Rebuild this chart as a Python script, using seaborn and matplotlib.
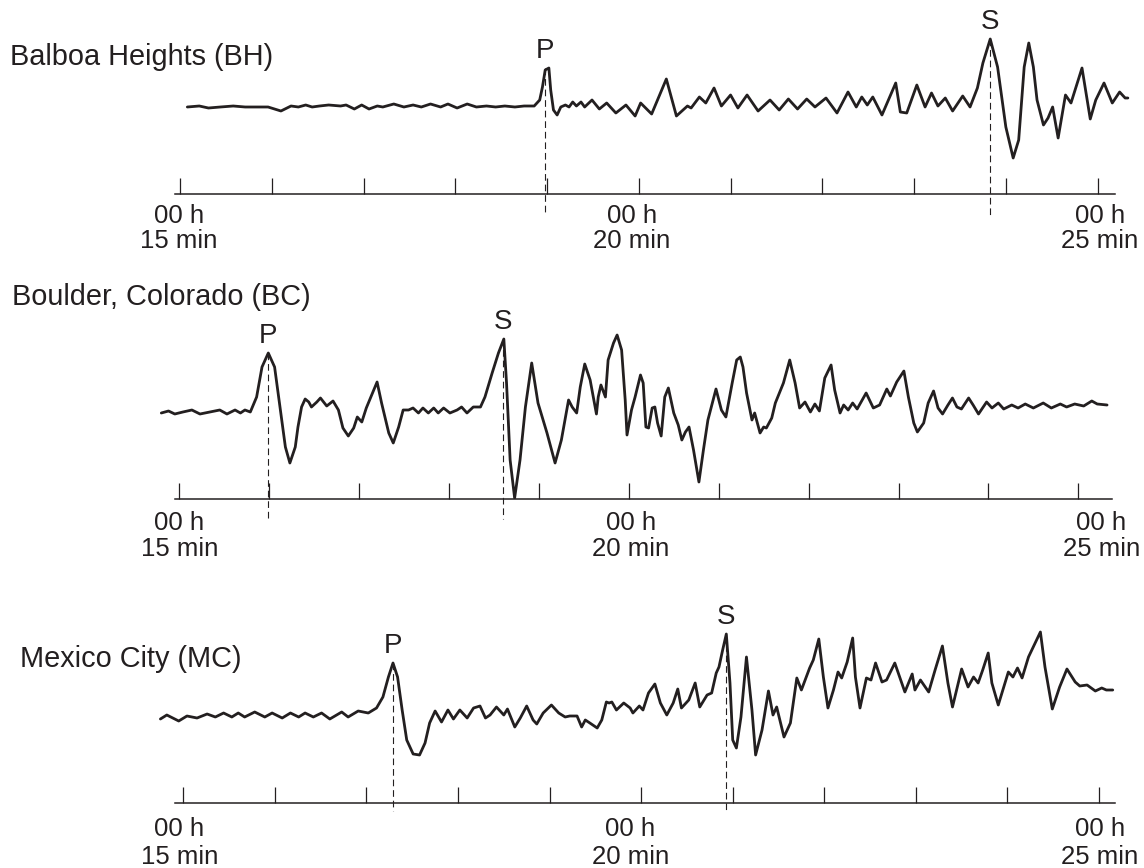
import matplotlib
matplotlib.use("Agg")
import matplotlib.pyplot as plt
import pandas as pd
import seaborn as sns

sns.set_style("white")
plt.rcParams['font.family'] = ['Liberation Sans', 'DejaVu Sans']

INK = '#231f20'

# station names
stations = ["Balboa Heights (BH)", "Boulder, Colorado (BC)", "Mexico City (MC)"]

# seismogram traces
# time in minutes after 00 h, amplitude in arbitrary units (up = positive)
bh_t = [15.08, 15.21, 15.31, 15.44, 15.58, 15.71, 15.79, 15.96, 16.10, 16.21,
        16.29, 16.37, 16.44, 16.52, 16.62, 16.75, 16.81, 16.90, 16.98, 17.06,
        17.15, 17.21, 17.33, 17.44, 17.54, 17.63, 17.73, 17.84, 17.92, 18.02,
        18.13, 18.23, 18.34, 18.44, 18.54, 18.65, 18.75, 18.86, 18.92, 18.95,
        18.98, 19.02, 19.04, 19.07, 19.11, 19.15, 19.20, 19.24, 19.28, 19.32,
        19.37, 19.41, 19.49, 19.57, 19.65, 19.75, 19.86, 19.96, 20.02, 20.14,
        20.30, 20.41, 20.53, 20.57, 20.66, 20.73, 20.82, 20.90, 21.00, 21.08,
        21.18, 21.30, 21.43, 21.53, 21.63, 21.73, 21.83, 21.92, 22.04, 22.16,
        22.28, 22.37, 22.43, 22.49, 22.55, 22.65, 22.80, 22.85, 22.92, 23.03,
        23.12, 23.19, 23.26, 23.34, 23.42, 23.53, 23.61, 23.69, 23.75, 23.83,
        23.91, 24.00, 24.08, 24.14, 24.20, 24.25, 24.30, 24.34, 24.41, 24.46,
        24.51, 24.57, 24.65, 24.71, 24.83, 24.92, 24.98, 25.07, 25.16, 25.24,
        25.30, 25.33]
bh_a = [0, 1, -1, 0, 1, 0, 0, 0, -4, 1,
        0, 2, 0, 1, 2, 1, 2, -2, 2, -2,
        1, 0, 3, 0, 2, 0, 3, 0, 3, -1,
        3, 0, 1, 0, 1, 0, 1, 1, 7, 20,
        37, 39, 17, -3, -8, 0, 2, 0, 5, 1,
        5, 0, 7, -2, 4, -6, 2, -9, 4, -7,
        28, -9, 1, -1, 10, 4, 19, 1, 12, -1,
        12, -4, 7, -3, 8, -2, 8, 0, 9, -6,
        15, 0, 10, 2, 10, -8, 24, -5, -6, 22,
        0, 14, 1, 9, -4, 11, 0, 19, 44, 68,
        40, -20, -51, -33, 40, 64, 40, 7, -18, -11,
        0, -31, 12, 4, 39, -12, 7, 24, 4, 15,
        9, 9]

bc_t = [14.80, 14.88, 14.95, 15.04, 15.14, 15.23, 15.34, 15.45, 15.53, 15.62,
        15.68, 15.73, 15.79, 15.86, 15.92, 15.99, 16.06, 16.12, 16.18, 16.23,
        16.29, 16.32, 16.36, 16.40, 16.44, 16.47, 16.53, 16.57, 16.64, 16.71,
        16.77, 16.82, 16.88, 16.94, 16.98, 17.03, 17.08, 17.14, 17.20, 17.25,
        17.33, 17.38, 17.44, 17.49, 17.55, 17.60, 17.66, 17.71, 17.77, 17.83,
        17.88, 17.94, 18.01, 18.09, 18.14, 18.20, 18.27, 18.35, 18.40, 18.48,
        18.55, 18.61, 18.64, 18.68, 18.73, 18.79, 18.85, 18.92, 18.99, 19.09,
        19.18, 19.25, 19.33, 19.37, 19.42, 19.46, 19.51, 19.57, 19.64, 19.66,
        19.69, 19.74, 19.77, 19.83, 19.87, 19.92, 19.96, 19.98, 20.03, 20.07,
        20.13, 20.16, 20.19, 20.22, 20.26, 20.29, 20.32, 20.36, 20.40, 20.44,
        20.50, 20.55, 20.59, 20.63, 20.67, 20.72, 20.78, 20.83, 20.88, 20.97,
        21.03, 21.08, 21.15, 21.20, 21.24, 21.27, 21.31, 21.37, 21.40, 21.46,
        21.50, 21.53, 21.59, 21.63, 21.72, 21.79, 21.85, 21.90, 21.96, 22.02,
        22.07, 22.12, 22.18, 22.25, 22.29, 22.35, 22.39, 22.44, 22.49, 22.54,
        22.64, 22.72, 22.79, 22.87, 22.91, 22.98, 23.06, 23.11, 23.17, 23.21,
        23.28, 23.33, 23.39, 23.44, 23.49, 23.55, 23.60, 23.65, 23.70, 23.78,
        23.83, 23.89, 23.98, 24.04, 24.11, 24.17, 24.26, 24.33, 24.41, 24.50,
        24.61, 24.70, 24.80, 24.87, 24.96, 25.06, 25.15, 25.21, 25.32]
bc_a = [-3, -1, -4, -2, 0, -4, -2, 0, -4, 0,
        -3, 0, -2, 13, 43, 57, 43, 3, -37, -53,
        -37, -17, 3, 11, 8, 3, 8, 12, 4, 9,
        0, -18, -26, -18, -7, -12, 2, 15, 28, 7,
        -23, -33, -17, 0, 0, 2, -3, 2, -3, 2,
        -3, 2, -3, 0, 3, -3, 3, 3, 13, 37,
        57, 71, 27, -50, -88, -50, 3, 47, 7, -23,
        -53, -30, 10, 3, -3, 23, 46, 30, -4, 13,
        25, 13, 50, 67, 75, 60, 10, -25, 0, 13,
        35, 27, -17, -18, 2, 3, -13, -26, 13, 22,
        -3, -15, -30, -22, -17, -40, -72, -40, -10, 21,
        0, -7, 27, 50, 53, 43, 17, -10, -3, -23,
        -17, -18, -8, 7, 27, 50, 27, 2, 8, -2,
        6, -1, 32, 45, 20, -3, 5, 0, 7, 1,
        17, 2, 5, 21, 14, 28, 39, 13, -13, -22,
        -13, 7, 19, 2, -4, 5, 12, 3, 1, 12,
        5, -4, 8, 2, 7, 1, 5, 2, 6, 2,
        7, 2, 6, 3, 6, 4, 9, 6, 5]

mc_t = [14.75, 14.82, 14.95, 15.04, 15.15, 15.26, 15.35, 15.44, 15.53, 15.60,
        15.67, 15.78, 15.89, 15.97, 16.08, 16.17, 16.26, 16.33, 16.42, 16.51,
        16.60, 16.73, 16.80, 16.91, 17.02, 17.11, 17.18, 17.24, 17.29, 17.34,
        17.39, 17.44, 17.51, 17.58, 17.64, 17.69, 17.75, 17.82, 17.89, 17.95,
        18.02, 18.10, 18.17, 18.24, 18.30, 18.35, 18.42, 18.50, 18.54, 18.62,
        18.68, 18.75, 18.82, 18.86, 18.93, 19.02, 19.10, 19.17, 19.22, 19.30,
        19.35, 19.39, 19.44, 19.52, 19.57, 19.62, 19.65, 19.68, 19.73, 19.81,
        19.88, 19.91, 19.98, 20.02, 20.08, 20.15, 20.21, 20.28, 20.35, 20.40,
        20.44, 20.52, 20.59, 20.64, 20.72, 20.77, 20.82, 20.85, 20.89, 20.93,
        20.97, 21.00, 21.04, 21.09, 21.15, 21.21, 21.25, 21.32, 21.39, 21.44,
        21.48, 21.56, 21.63, 21.70, 21.75, 21.84, 21.88, 21.94, 21.99, 22.04,
        22.10, 22.15, 22.19, 22.25, 22.31, 22.34, 22.39, 22.46, 22.51, 22.56,
        22.63, 22.68, 22.77, 22.88, 22.96, 22.99, 23.05, 23.14, 23.21, 23.29,
        23.35, 23.40, 23.50, 23.57, 23.63, 23.68, 23.73, 23.79, 23.83, 23.90,
        24.01, 24.06, 24.11, 24.16, 24.23, 24.36, 24.41, 24.49, 24.57, 24.65,
        24.74, 24.79, 24.87, 24.96, 25.03, 25.08, 25.15]
mc_a = [-3, 1, -5, 0, -2, 2, -1, 3, -1, 3,
        -1, 4, -1, 3, -2, 3, -1, 3, -1, 3,
        -3, 4, -1, 5, 3, 8, 19, 39, 53, 39,
        6, -24, -38, -39, -27, -7, 5, -6, 6, -3,
        6, -2, 8, 10, -2, 1, 9, 1, 7, -11,
        -2, 10, -4, -8, 3, 11, 3, -1, 0, 0,
        -11, -4, -7, -12, -4, 14, 13, 14, 6, 13,
        8, 3, 10, 6, 23, 32, 13, 1, 13, 27,
        8, 16, 33, 9, 21, 23, 43, 49, 66, 82,
        33, -24, -32, -1, 59, 6, -39, -14, 25, 1,
        9, -21, -7, 38, 26, 48, 56, 77, 39, 8,
        26, 44, 38, 54, 78, 39, 8, 38, 36, 53,
        34, 36, 53, 24, 42, 26, 36, 24, 46, 70,
        33, 9, 47, 29, 39, 33, 46, 63, 33, 11,
        44, 39, 48, 38, 59, 84, 49, 7, 29, 47,
        34, 30, 31, 25, 28, 26, 26]

# P and S wave arrival picks (minutes) and the amplitude of the marked peak
p_time = [18.98, 15.99, 17.29]
p_amp = [39, 57, 53]
s_time = [23.83, 18.60, 20.93]
s_amp = [68, 71, 82]

minute_ticks = list(range(15, 26))
labelled = [15, 20, 25]

traces = [(bh_t, bh_a), (bc_t, bc_a), (mc_t, mc_a)]

# layout in figure pixels: axis line y, trace rest level y, x of 15 min, px per minute
W, H = 1144, 868
layout = [(194, 107, 180.0, 91.76), (498.5, 410, 179.3, 89.9), (802.5, 716, 183.3, 91.57)]
axis_span = [(14.95, 25.19), (14.95, 25.38), (14.91, 25.17)]
title_xy = [(10, 65), (12, 305), (20, 667)]
dash_drop = [21, 20, 8]
label_dx = [[-1, -7, 2], [0, 2, 23], [-4, -11, 1]]
label_base = [(28.7, 54.5), (31.5, 58), (34, 61)]

fig = plt.figure(figsize=(W / 100, H / 100), dpi=100)

for i, name in enumerate(stations):
    axis_y, rest_y, x15, ppm = layout[i]
    top_y = axis_y - 200
    ax = fig.add_axes([0, 1 - axis_y / H, 1, (axis_y - top_y) / H])
    ax.patch.set_alpha(0)
    ax.set_xlim(15 - x15 / ppm, 15 + (W - x15) / ppm)
    lo = rest_y - axis_y
    ax.set_ylim(lo, rest_y - top_y)

    t, a = traces[i]
    df = pd.DataFrame({"minute": t, "amp": a})
    sns.lineplot(data=df, x="minute", y="amp", ax=ax, color=INK, lw=2.0,
                 estimator=None, sort=False, solid_joinstyle='round',
                 solid_capstyle='round')

    # P / S picks
    for tt, aa, lab in [(p_time[i], p_amp[i], "P"), (s_time[i], s_amp[i], "S")]:
        ax.plot([tt, tt], [aa, lo - dash_drop[i]], color=INK, lw=0.8,
                ls=(0, (6, 3.5)), clip_on=False)
        ax.annotate(lab, xy=(tt, aa), xytext=(0, 10), textcoords='offset pixels',
                    ha='center', va='baseline', fontsize=20, color=INK)

    # time axis
    for side in ['top', 'left', 'right']:
        ax.spines[side].set_visible(False)
    ax.spines['bottom'].set_bounds(*axis_span[i])
    ax.spines['bottom'].set_linewidth(1.1)
    ax.spines['bottom'].set_color(INK)
    ax.set_xticks(minute_ticks)
    ax.set_yticks([])
    ax.tick_params(axis='x', bottom=True, direction='in', length=11.5, width=0.9,
                   color=INK, labelbottom=False)
    ax.set_xlabel('')
    ax.set_ylabel('')

    for k, m in enumerate(labelled):
        b1, b2 = label_base[i]
        ax.annotate("00 h", xy=(m, 0), xycoords=('data', 'axes fraction'),
                    xytext=(label_dx[i][k], -b1), textcoords='offset pixels',
                    ha='center', va='baseline', fontsize=18.5, color=INK,
                    annotation_clip=False)
        ax.annotate(f"{m} min", xy=(m, 0), xycoords=('data', 'axes fraction'),
                    xytext=(label_dx[i][k], -b2), textcoords='offset pixels',
                    ha='center', va='baseline', fontsize=18.5, color=INK,
                    annotation_clip=False)

    fig.text(title_xy[i][0] / W, 1 - title_xy[i][1] / H, name, ha='left',
             va='baseline', fontsize=20.8, color=INK)

fig.savefig("out.png", dpi=100)
